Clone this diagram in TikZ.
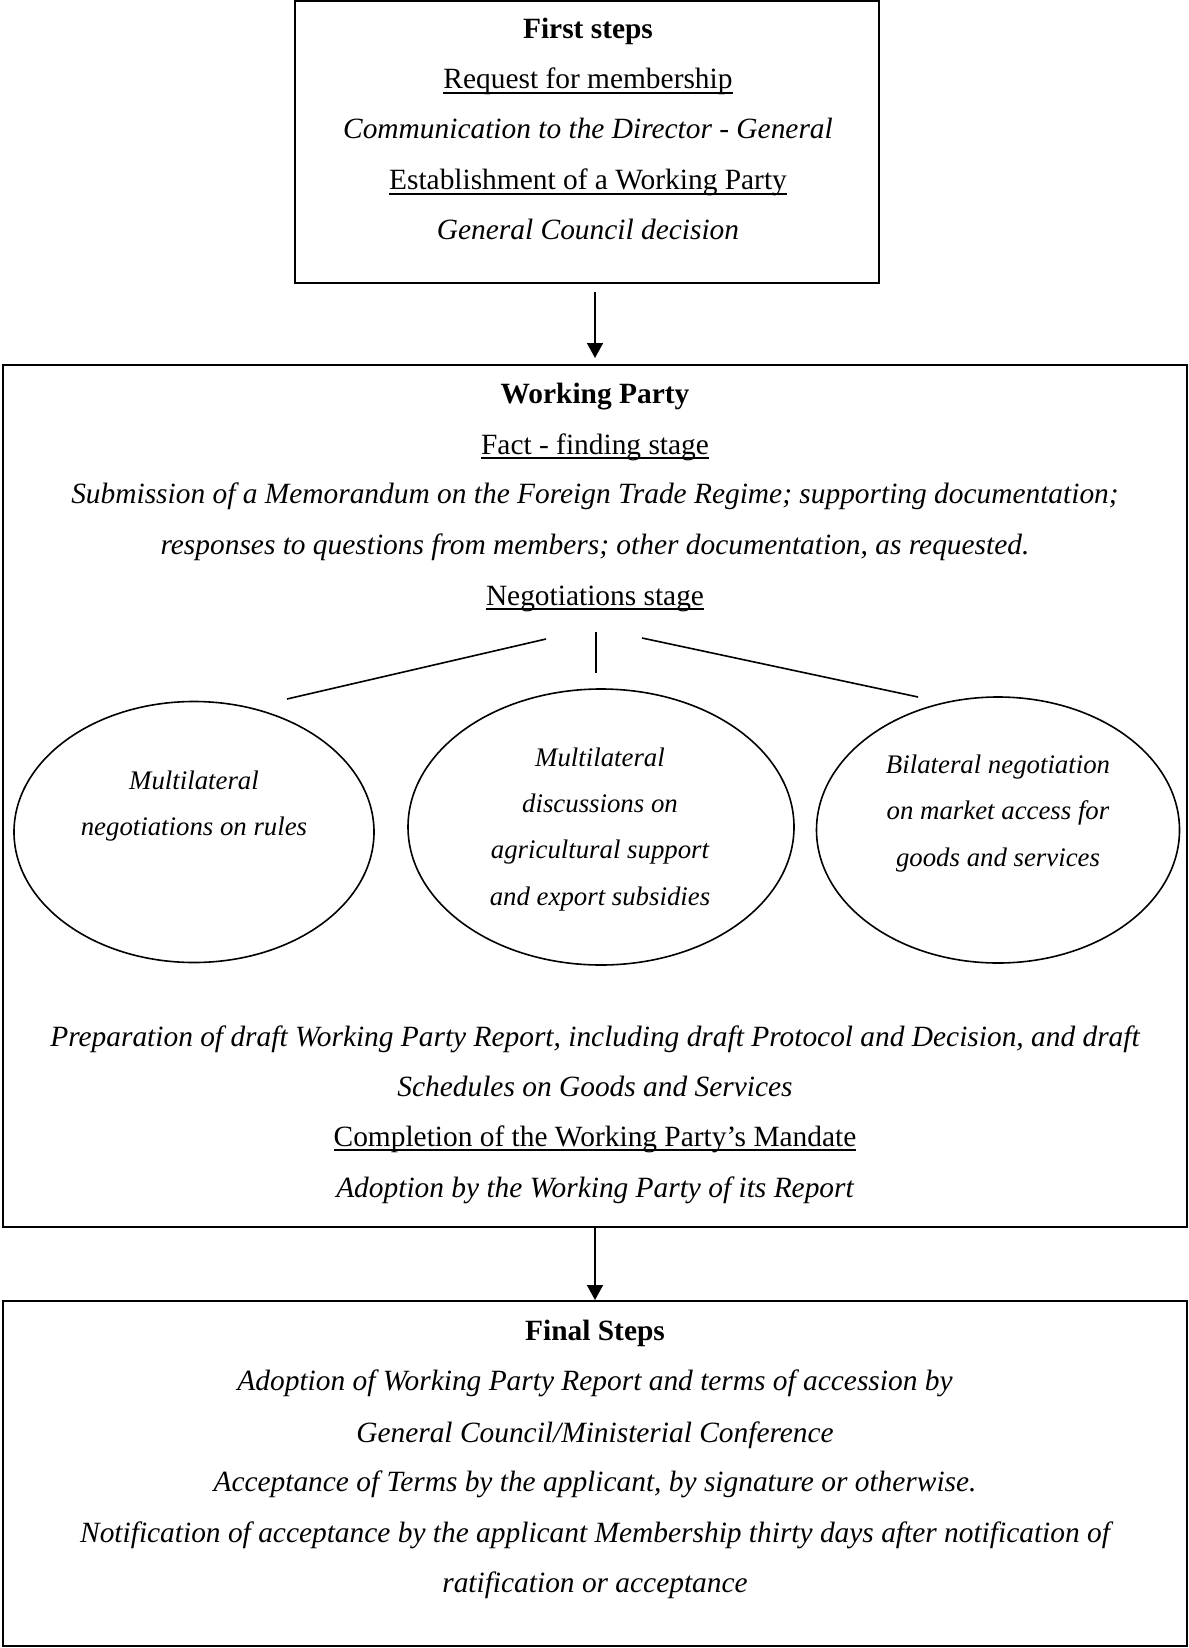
\documentclass[tikz,border=0pt]{standalone}
\usepackage{fontspec}
\setmainfont{Liberation Serif}
\usetikzlibrary{shapes.geometric,arrows.meta}
\newcommand{\ulx}[1]{\setbox0\hbox{#1}\rlap{\rule[-2.4pt]{\wd0}{0.8pt}}\box0}
\begin{document}
\begin{tikzpicture}[x=0.5pt,y=-0.5pt,
 box/.style={draw,line width=1pt,inner sep=0pt,rectangle},
 ell/.style={draw,line width=0.8pt,ellipse,inner sep=0pt},
 txt/.style={anchor=base,inner sep=0pt,font=\fontsize{14.7}{18}\selectfont},
 etxt/.style={anchor=base,inner sep=0pt,font=\fontsize{13.4}{16}\selectfont\itshape},
 arr/.style={line width=0.8pt,-{Triangle[length=7.5pt,width=8pt]}},
 fan/.style={line width=0.8pt}]
\useasboundingbox (0,0) rectangle (1188,1648);
% boxes
\node[box,minimum width=292pt,minimum height=141pt] (b1) at (587,142) {};
\node[box,minimum width=592pt,minimum height=431pt] (b2) at (595,796) {};
\node[box,minimum width=592pt,minimum height=172.5pt] (b3) at (595,1473.5) {};
% box 1 text
\node[txt] (t11) at (588,39) {\bfseries First steps};
\node[txt] (t12) at (588,89) {\ulx{Request for membership}};
\node[txt] (t13) at (588,139) {\itshape Communication to the Director - General};
\node[txt] (t14) at (588,190) {\ulx{Establishment of a Working Party}};
\node[txt] (t15) at (588,240) {\itshape General Council decision};
% box 2 text
\node[txt] (t21) at (595,403) {\bfseries Working Party};
\node[txt] (t22) at (595,454) {\ulx{Fact - finding stage}};
\node[txt] (t23) at (595,503) {\itshape Submission of a Memorandum on the Foreign Trade Regime; supporting documentation;};
\node[txt] (t24) at (595,554) {\itshape responses to questions from members; other documentation, as requested.};
\node[txt] (t25) at (595,605) {\ulx{Negotiations stage}};
% fan lines
\coordinate (f1a) at (546,639); \coordinate (f1b) at (287,699);
\coordinate (f2a) at (596,632); \coordinate (f2b) at (596,673);
\coordinate (f3a) at (642,638); \coordinate (f3b) at (918,697);
\draw[fan] (f1a) -- (f1b);
\draw[fan] (f2a) -- (f2b);
\draw[fan] (f3a) -- (f3b);
% ellipses
\node[ell,minimum width=180pt,minimum height=130.5pt] (e1) at (194,832) {};
\node[ell,minimum width=193pt,minimum height=138pt] (e2) at (601,827) {};
\node[ell,minimum width=181.5pt,minimum height=133pt] (e3) at (998,830) {};
\node[etxt] (e1a) at (194,789) {Multilateral};
\node[etxt] (e1b) at (194,835) {negotiations on rules};
\node[etxt] (e2a) at (600,766) {Multilateral};
\node[etxt] (e2b) at (600,812) {discussions on};
\node[etxt] (e2c) at (600,858) {agricultural support};
\node[etxt] (e2d) at (600,905) {and export subsidies};
\node[etxt] (e3a) at (998,773) {Bilateral negotiation};
\node[etxt] (e3b) at (998,819) {on market access for};
\node[etxt] (e3c) at (998,866) {goods and services};
% lower box 2 text
\node[txt] (t26) at (595,1046) {\itshape Preparation of draft Working Party Report, including draft Protocol and Decision, and draft};
\node[txt] (t27) at (595,1096) {\itshape Schedules on Goods and Services};
\node[txt] (t28) at (595,1146) {\ulx{Completion of the Working Party’s Mandate}};
\node[txt] (t29) at (595,1197) {\itshape Adoption by the Working Party of its Report};
% box 3 text
\node[txt] (t31) at (595,1340) {\bfseries Final Steps};
\node[txt] (t32) at (595,1390) {\itshape Adoption of Working Party Report and terms of accession by};
\node[txt] (t33) at (595,1442) {\itshape General Council/Ministerial Conference};
\node[txt] (t34) at (595,1491) {\itshape Acceptance of Terms by the applicant, by signature or otherwise.};
\node[txt] (t35) at (595,1542) {\itshape Notification of acceptance by the applicant Membership thirty days after notification of};
\node[txt] (t36) at (595,1592) {\itshape ratification or acceptance};
% arrows
\draw[arr] ([yshift=-4pt]b2.north |- b1.south) -- ([yshift=3pt]b2.north);
\draw[arr] (b2.south) -- (b3.north);
\end{tikzpicture}
\end{document}
